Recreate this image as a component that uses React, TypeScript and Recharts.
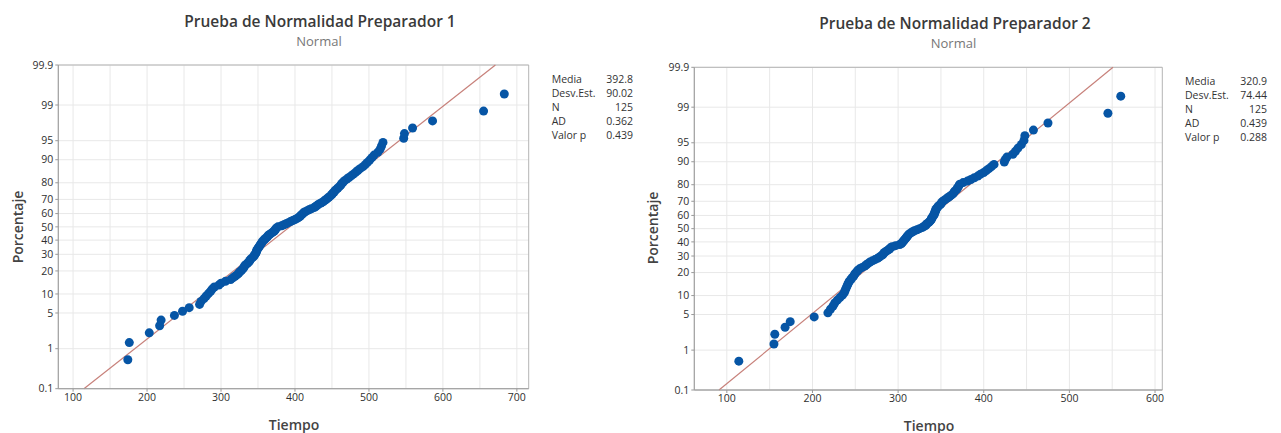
import React from 'react'
import {
  ScatterChart, Scatter, XAxis, YAxis, CartesianGrid,
  ReferenceLine, ReferenceArea,
} from 'recharts'

const tiempo1 = [
  174, 176, 203, 217, 219, 237, 248, 257, 271, 273,
  277, 280, 283, 286, 288, 291, 297, 300, 306, 313,
  316, 319, 322, 324, 326, 328, 330, 331, 332, 334,
  336, 338, 339, 340, 342, 344, 345, 346, 347, 348,
  348, 349, 350, 351, 352, 353, 354, 355, 356, 357,
  359, 360, 362, 363, 364, 366, 368, 370, 372, 373,
  374, 375, 377, 382, 385, 388, 391, 394, 397, 400,
  403, 405, 407, 408, 410, 411, 413, 416, 419, 422,
  426, 428, 430, 432, 435, 438, 440, 442, 444, 446,
  448, 450, 451, 453, 454, 456, 458, 460, 462, 463,
  465, 467, 470, 473, 476, 479, 482, 485, 488, 492,
  495, 498, 501, 504, 507, 512, 515, 517, 519, 547,
  548, 559, 586, 655, 683,
]

const tiempo2 = [
  114, 155, 156, 168, 174, 202, 218, 221, 224, 226,
  229, 232, 235, 237, 238, 239, 240, 241, 242, 243,
  245, 246, 248, 249, 250, 252, 253, 255, 258, 261,
  263, 265, 267, 270, 273, 276, 278, 280, 282, 283,
  284, 286, 288, 290, 291, 293, 297, 302, 304, 305,
  306, 307, 308, 309, 310, 311, 312, 313, 315, 317,
  319, 322, 325, 328, 330, 332, 333, 334, 336, 337,
  338, 339, 339, 340, 341, 342, 342, 343, 343, 344,
  344, 345, 346, 347, 349, 350, 351, 352, 354, 356,
  358, 360, 362, 364, 365, 366, 368, 369, 370, 371,
  372, 376, 381, 385, 389, 393, 396, 400, 403, 406,
  409, 412, 424, 425, 427, 434, 437, 440, 444, 447,
  448, 458, 475, 545, 560,
]

const media1 = 392.8
const desv1 = 90.02
const media2 = 320.9
const desv2 = 74.44

const statLabels = ['Media', 'Desv.Est.', 'N', 'AD', 'Valor p']
const statValues1 = ['392.8', '90.02', '125', '0.362', '0.439']
const statValues2 = ['320.9', '74.44', '125', '0.439', '0.288']

const pctTicks = [0.1, 1, 5, 10, 20, 30, 40, 50, 60, 70, 80, 90, 95, 99, 99.9]
const xTicks1 = [100, 200, 300, 400, 500, 600, 700]
const xGrid1 = [100, 150, 200, 250, 300, 350, 400, 450, 500, 550, 600, 650, 700]
const xTicks2 = [100, 200, 300, 400, 500, 600]
const xGrid2 = [100, 150, 200, 250, 300, 350, 400, 450, 500, 550, 600]

const FONT = '"Open Sans", "Noto Sans", sans-serif'

// inversa de la normal estándar (Acklam), para la escala de probabilidad
function qnorm(p: number): number {
  const a = [-39.69683028665376, 220.9460984245205, -275.9285104469687, 138.357751867269, -30.66479806614716, 2.506628277459239]
  const b = [-54.47609879822406, 161.5858368580409, -155.6989798598866, 66.80131188771972, -13.28068155288572]
  const c = [-0.007784894002430293, -0.3223964580411365, -2.400758277161838, -2.549732539343734, 4.374664141464968, 2.938163982698783]
  const d = [0.007784695709041462, 0.3224671290700398, 2.445134137142996, 3.754408661907416]
  const pl = 0.02425
  if (p < pl) {
    const q = Math.sqrt(-2 * Math.log(p))
    return (((((c[0] * q + c[1]) * q + c[2]) * q + c[3]) * q + c[4]) * q + c[5]) / ((((d[0] * q + d[1]) * q + d[2]) * q + d[3]) * q + 1)
  }
  if (p > 1 - pl) {
    const q = Math.sqrt(-2 * Math.log(1 - p))
    return -(((((c[0] * q + c[1]) * q + c[2]) * q + c[3]) * q + c[4]) * q + c[5]) / ((((d[0] * q + d[1]) * q + d[2]) * q + d[3]) * q + 1)
  }
  const q = p - 0.5
  const r = q * q
  return (((((a[0] * r + a[1]) * r + a[2]) * r + a[3]) * r + a[4]) * r + a[5]) * q / (((((b[0] * r + b[1]) * r + b[2]) * r + b[3]) * r + b[4]) * r + 1)
}

const zTicks = pctTicks.map((p) => qnorm(p / 100))
const ZMAX = zTicks[zTicks.length - 1]

const pctLabel = (v: number) => {
  const i = zTicks.findIndex((z) => Math.abs(z - v) < 1e-6)
  return i >= 0 ? String(pctTicks[i]) : ''
}

// posición de graficación: rango mediano de Benard (i - 0.3) / (n + 0.4)
const toPoints = (vals: number[]) =>
  vals.map((x, i) => ({ x, z: qnorm((i + 1 - 0.3) / (vals.length + 0.4)) }))

const Dot = (props: any) => <circle cx={props.cx} cy={props.cy} r={4.5} fill="#0655A5" />

interface PlotProps {
  left: number
  width: number
  tiempo: number[]
  media: number
  desv: number
  xDomain: [number, number]
  xTicks: number[]
  xGrid: number[]
  margin: { top: number; right: number; bottom: number; left: number }
}

function ProbPlot({ left, width, tiempo, media, desv, xDomain, xTicks, xGrid, margin }: PlotProps) {
  const tickStyle = { fontSize: 10.5, fill: '#2f2f2f', fontFamily: FONT }
  return (
    <div style={{ position: 'absolute', left, top: 0, width, height: 433 }}>
      <ScatterChart width={width} height={433} margin={margin}>
        <CartesianGrid stroke="#e8e8e8" horizontalValues={zTicks} verticalValues={xGrid} />
        <XAxis
          type="number"
          dataKey="x"
          domain={xDomain}
          ticks={xTicks}
          interval={0}
          allowDataOverflow
          height={30}
          tick={tickStyle}
          tickSize={3}
          tickLine={{ stroke: '#999' }}
          axisLine={{ stroke: '#a0a0a0' }}
        />
        <YAxis
          type="number"
          dataKey="z"
          domain={[-ZMAX, ZMAX]}
          ticks={zTicks}
          interval={0}
          allowDataOverflow
          width={50}
          tick={tickStyle}
          tickFormatter={pctLabel}
          tickSize={3}
          tickLine={{ stroke: '#999' }}
          axisLine={{ stroke: '#a0a0a0' }}
        />
        <ReferenceArea x1={xDomain[0]} x2={xDomain[1]} y1={-ZMAX} y2={ZMAX} fill="none" stroke="#b4b4b4" ifOverflow="visible" />
        <ReferenceLine
          segment={[{ x: media - desv * ZMAX, y: -ZMAX }, { x: media + desv * ZMAX, y: ZMAX }]}
          stroke="#C7807A"
          strokeWidth={1.2}
          ifOverflow="visible"
        />
        <Scatter data={toPoints(tiempo)} shape={<Dot />} isAnimationActive={false} />
      </ScatterChart>
    </div>
  )
}

function Txt({ x, y, children, style }: { x: number; y: number; children: React.ReactNode; style?: React.CSSProperties }) {
  return (
    <div style={{ position: 'absolute', left: x, top: y, transform: 'translate(-50%, -50%)', whiteSpace: 'nowrap', fontFamily: FONT, ...style }}>
      {children}
    </div>
  )
}

function Stats({ x, right, y, values }: { x: number; right: number; y: number; values: string[] }) {
  return (
    <div style={{ position: 'absolute', left: x, top: y, width: right - x, fontFamily: FONT, fontSize: 10.5, color: '#333', lineHeight: '14px' }}>
      {statLabels.map((l, i) => (
        <div key={l} style={{ display: 'flex', justifyContent: 'space-between' }}>
          <span>{l}</span>
          <span>{values[i]}</span>
        </div>
      ))}
    </div>
  )
}

export default function App() {
  const title: React.CSSProperties = { fontSize: 15.5, fontWeight: 600, color: '#3a3a3a' }
  const sub: React.CSSProperties = { fontSize: 13, color: '#777' }
  const axisLbl: React.CSSProperties = { fontSize: 14, fontWeight: 600, color: '#444' }
  return (
    <div style={{ position: 'absolute', left: 0, top: 0, width: 1281, height: 433, background: '#fff', overflow: 'hidden' }}>
      <ProbPlot
        left={0}
        width={640}
        tiempo={tiempo1}
        media={media1}
        desv={desv1}
        xDomain={[80, 716]}
        xTicks={xTicks1}
        xGrid={xGrid1}
        margin={{ top: 65, right: 111.3, bottom: 14.3, left: 8.3 }}
      />
      <ProbPlot
        left={640}
        width={641}
        tiempo={tiempo2}
        media={media2}
        desv={desv2}
        xDomain={[62, 608.5]}
        xTicks={xTicks2}
        xGrid={xGrid2}
        margin={{ top: 67.3, right: 118.7, bottom: 13, left: 4.3 }}
      />

      <Txt x={320} y={21} style={title}>Prueba de Normalidad Preparador 1</Txt>
      <Txt x={319} y={41} style={sub}>Normal</Txt>
      <Txt x={294} y={424} style={axisLbl}>Tiempo</Txt>
      <Txt x={16.5} y={227} style={{ ...axisLbl, transform: 'translate(-50%, -50%) rotate(-90deg)' }}>Porcentaje</Txt>
      <Stats x={551.7} right={633} y={72} values={statValues1} />

      <Txt x={955} y={23} style={title}>Prueba de Normalidad Preparador 2</Txt>
      <Txt x={953.5} y={42.5} style={sub}>Normal</Txt>
      <Txt x={929} y={425} style={axisLbl}>Tiempo</Txt>
      <Txt x={651.5} y={228} style={{ ...axisLbl, transform: 'translate(-50%, -50%) rotate(-90deg)' }}>Porcentaje</Txt>
      <Stats x={1185} right={1267} y={74} values={statValues2} />
    </div>
  )
}
